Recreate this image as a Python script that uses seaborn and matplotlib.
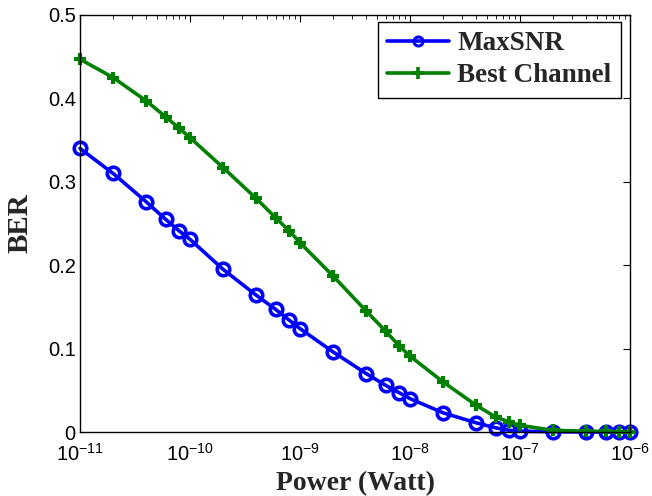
import numpy as np
import pandas as pd
import matplotlib
matplotlib.use("Agg")
import matplotlib.pyplot as plt
import matplotlib.ticker as mticker
from matplotlib.lines import Line2D
import seaborn as sns

power = [1e-11, 2e-11, 4e-11, 6e-11, 8e-11, 1e-10, 2e-10, 4e-10, 6e-10, 8e-10,
         1e-9, 2e-9, 4e-9, 6e-9, 8e-9, 1e-8, 2e-8, 4e-8, 6e-8, 8e-8,
         1e-7, 2e-7, 4e-7, 6e-7, 8e-7, 1e-6]
ber_maxsnr = [0.340, 0.310, 0.276, 0.255, 0.241, 0.231, 0.195, 0.164, 0.147, 0.134,
              0.124, 0.096, 0.070, 0.056, 0.047, 0.040, 0.023, 0.011, 0.005, 0.002,
              0.001, 0.0003, 0.0001, 0.0, 0.0, 0.0]
ber_best = [0.447, 0.425, 0.397, 0.378, 0.364, 0.353, 0.317, 0.280, 0.257, 0.241,
            0.227, 0.187, 0.145, 0.121, 0.103, 0.091, 0.060, 0.032, 0.018, 0.012,
            0.008, 0.002, 0.001, 0.0006, 0.0004, 0.0002]
series_names = ["MaxSNR", "Best Channel"]
y_ticks = [0, 0.1, 0.2, 0.3, 0.4, 0.5]
y_tick_labels = ["0", "0.1", "0.2", "0.3", "0.4", "0.5"]

df = pd.DataFrame({
    "Power": power * 2,
    "BER": ber_maxsnr + ber_best,
    "Series": [series_names[0]] * len(power) + [series_names[1]] * len(power),
})

sns.set_style("white")
plt.rcParams["font.family"] = ["Liberation Sans", "DejaVu Sans"]
plt.rcParams["mathtext.fontset"] = "custom"
plt.rcParams["mathtext.rm"] = "Liberation Sans"
plt.rcParams["mathtext.it"] = "Liberation Sans"
plt.rcParams["mathtext.default"] = "regular"

fig = plt.figure(figsize=(6.52, 4.96), dpi=100)
ax = fig.add_axes([80 / 652, 1 - 432 / 496, 550 / 652, 417 / 496])

blue = (0, 0, 1)
green = (0, 0.5, 0)
palette = {"MaxSNR": blue, "Best Channel": green}
sns.lineplot(data=df, x="Power", y="BER", hue="Series", style="Series",
             markers={"MaxSNR": "o", "Best Channel": "P"}, dashes=False,
             palette=palette, ax=ax, linewidth=2.6, legend=False, sort=False)

for line, name in zip(ax.lines, series_names):
    line.set_clip_on(False)
    if name == "MaxSNR":
        line.set_marker("o")
        line.set_markersize(9)
        line.set_markerfacecolor("none")
        line.set_markeredgecolor(blue)
        line.set_markeredgewidth(2.6)
        line.set_zorder(3)
    else:
        line.set_marker("+")
        line.set_markersize(8)
        line.set_markeredgecolor(green)
        line.set_markeredgewidth(3)
        line.set_zorder(4)

ax.set_xscale("log")
ax.set_xlim(1e-11, 1e-6)
ax.set_ylim(0, 0.5)
ax.set_yticks(y_ticks)
ax.set_yticklabels(y_tick_labels)
ax.xaxis.set_major_locator(mticker.LogLocator(base=10, numticks=10))
ax.xaxis.set_minor_locator(mticker.LogLocator(base=10, subs=np.arange(2, 10), numticks=20))
ax.xaxis.set_minor_formatter(mticker.NullFormatter())

for s in ax.spines.values():
    s.set_color("black")
    s.set_linewidth(1.0)
    s.set_zorder(5)

ax.tick_params(axis="both", which="both", direction="in", top=True, right=True,
               labelsize=14.5, colors="black")
ax.tick_params(axis="both", which="major", length=5)
ax.tick_params(axis="x", which="minor", length=3)
ax.tick_params(axis="x", pad=8)
ax.tick_params(axis="y", pad=3)

ax.set_xlabel("Power (Watt)", fontsize=20, fontweight="bold",
              family=["Liberation Serif"])
ax.xaxis.set_label_coords(0.5, -0.093)
ax.set_ylabel("BER", fontsize=21, fontweight="bold",
              family=["Liberation Serif"])
ax.yaxis.set_label_coords(-0.085, 0.5)

handles = [
    Line2D([], [], color=blue, lw=2.6, marker="o", markersize=6.5,
           markerfacecolor="none", markeredgewidth=2.2),
    Line2D([], [], color=green, lw=2.6, marker="+", markersize=8,
           markeredgewidth=2.6),
]
leg = ax.legend(handles, series_names, loc="upper right",
                bbox_to_anchor=(621 / 652, 1 - 22 / 496), bbox_transform=fig.transFigure,
                prop={"family": "Liberation Serif", "weight": "bold", "size": 19.5},
                frameon=True, fancybox=False, edgecolor="black", framealpha=1,
                handlelength=2.3, borderpad=0.35, labelspacing=0.25, handletextpad=0.3,
                borderaxespad=0)
leg.get_frame().set_linewidth(1.0)
leg.set_zorder(6)

fig.savefig("out.png", dpi=100)
